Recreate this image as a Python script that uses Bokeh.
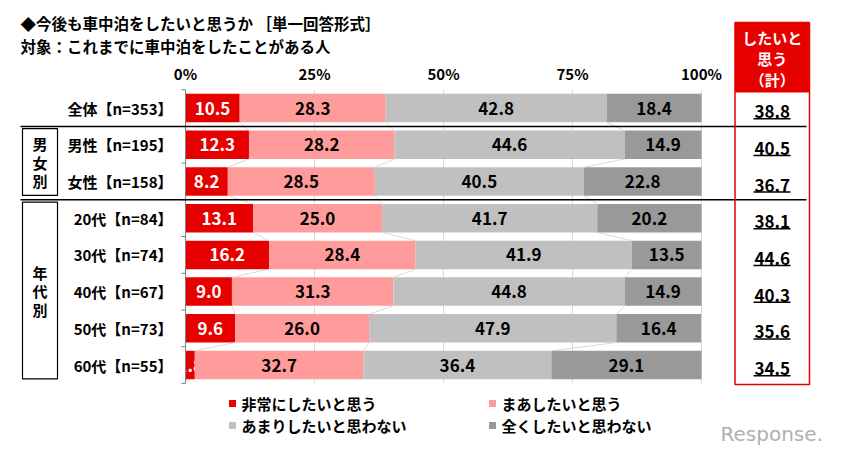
from bokeh.plotting import figure
from bokeh.models import Range1d, ColumnDataSource
from bokeh.core.properties import value
from bokeh.embed import file_html
from bokeh.resources import INLINE

# ---------------- data ----------------
title_lines = ["◆今後も車中泊をしたいと思うか ［単一回答形式］",
               "対象：これまでに車中泊をしたことがある人"]
categories = ["全体【n=353】", "男性【n=195】", "女性【n=158】", "20代【n=84】",
              "30代【n=74】", "40代【n=67】", "50代【n=73】", "60代【n=55】"]
series_names = ["非常にしたいと思う", "まあしたいと思う",
                "あまりしたいと思わない", "全くしたいと思わない"]
very = [10.5, 12.3, 8.2, 13.1, 16.2, 9.0, 9.6, 1.8]
somewhat = [28.3, 28.2, 28.5, 25.0, 28.4, 31.3, 26.0, 32.7]
not_much = [42.8, 44.6, 40.5, 41.7, 41.9, 44.8, 47.9, 36.4]
not_at_all = [18.4, 14.9, 22.8, 20.2, 13.5, 14.9, 16.4, 29.1]
total_want = [38.8, 40.5, 36.7, 38.1, 44.6, 40.3, 35.6, 34.5]
total_header = ["したいと", "思う", "（計）"]
x_ticks = [0, 25, 50, 75, 100]
x_tick_labels = ["0%", "25%", "50%", "75%", "100%"]
groups = [("男女別", 1, 2), ("年代別", 3, 7)]  # label, first row, last row

colors = ["#e60000", "#ff9b9b", "#c0c0c0", "#999999"]
label_colors = ["white", "black", "black", "black"]
FONT = value("Noto Sans CJK JP")

# ---------------- layout helpers (page pixel -> data) ----------------
SX, X0 = 5.16, 185.0
SY, Y0 = 36.71, 89.2
def px(x):
    return (x - X0) / SX
def py(y):
    return (y - Y0) / SY

W, H = 848, 455
p = figure(width=W, height=H,
           x_range=Range1d(px(0), px(W)),
           y_range=Range1d(py(H), py(0)),
           output_backend="svg", toolbar_location=None,
           x_axis_location=None, y_axis_location=None,
           min_border=0, outline_line_color=None)
p.grid.visible = False
p.background_fill_color = "white"

n = len(categories)
rows = [i + 0.5 for i in range(n)]
bar_h = 0.776

# gridlines
p.segment(x0=x_ticks[1:], y0=[0] * 4, x1=x_ticks[1:], y1=[n] * 4,
          line_color="#d9d9d9", line_width=1)

# stacked bars
series = [very, somewhat, not_much, not_at_all]
cum = [0.0] * n
bounds = []
for k, vals in enumerate(series):
    left = cum[:]
    right = [a + b for a, b in zip(cum, vals)]
    src = ColumnDataSource(dict(y=rows, left=left, right=right,
                                mid=[(a + b) / 2 for a, b in zip(left, right)],
                                lab=[f"{v:.1f}" for v in vals]))
    p.hbar(y="y", left="left", right="right", height=bar_h, source=src,
           fill_color=colors[k], line_color=None)
    p.text(x="mid", y="y", text="lab", source=src, text_align="center",
           text_baseline="middle", text_font=FONT, text_font_size="17px",
           text_font_style="bold", text_color=label_colors[k])
    cum = right
    if k < 3:
        bounds.append(right)

# series lines (faint connectors)
sx0, sy0, sx1, sy1 = [], [], [], []
for b in bounds:
    for i in range(n - 1):
        sx0.append(b[i]); sy0.append(rows[i] + bar_h / 2)
        sx1.append(b[i + 1]); sy1.append(rows[i + 1] - bar_h / 2)
p.segment(x0=sx0, y0=sy0, x1=sx1, y1=sy1, line_color="#d0d0d0", line_width=0.8)

# left axis line and ticks
p.segment(x0=[0], y0=[0], x1=[0], y1=[n], line_color="#808080", line_width=1)
p.segment(x0=[px(181)] * (n + 1), y0=list(range(n + 1)), x1=[0] * (n + 1),
          y1=list(range(n + 1)), line_color="#808080", line_width=1)

# x tick labels (top)
p.text(x=x_ticks, y=[py(73)] * 5, text=x_tick_labels, text_align="center",
       text_baseline="middle", text_font=FONT, text_font_size="15px",
       text_font_style="bold", text_color="black")

# category labels
p.text(x=[px(172)] * n, y=rows, text=categories, text_align="right",
       text_baseline="middle", text_font=FONT, text_font_size="15px",
       text_font_style="bold", text_color="black")

# group boxes and vertical labels
for lab, r0, r1 in groups:
    p.quad(left=[px(22)], right=[px(57)], top=[r0 + 0.06], bottom=[r1 + 1 - 0.12],
           fill_color=None, line_color="black", line_width=1.2)
    mid = (r0 + r1 + 1) / 2 - 0.03
    m = len(lab)
    ys = [mid + (j - (m - 1) / 2) * (18.5 / SY) for j in range(m)]
    p.text(x=[px(39.5)] * m, y=ys, text=list(lab), text_align="center",
           text_baseline="middle", text_font=FONT, text_font_size="15px",
           text_font_style="bold", text_color="black")

# group separator lines
seps = [g[1] for g in groups]
p.segment(x0=[px(20)] * len(seps), y0=seps, x1=[px(806)] * len(seps), y1=seps,
          line_color="black", line_width=1.5)

# title
p.text(x=[px(20)] * 2, y=[py(22), py(45)], text=title_lines, text_align="left",
       text_baseline="middle", text_font=FONT, text_font_size="15.5px",
       text_font_style="bold", text_color="black")

# right summary box
bx0, bx1 = px(734.5), px(809)
p.quad(left=[bx0], right=[bx1], top=[py(22)], bottom=[py(92)],
       fill_color="#e60000", line_color=None)
p.quad(left=[bx0], right=[bx1], top=[py(22)], bottom=[py(384)],
       fill_color=None, line_color="#e60000", line_width=1.5)
bxc = (bx0 + bx1) / 2
p.text(x=[bxc] * 3, y=[py(37), py(58), py(79)], text=total_header, text_align="center",
       text_baseline="middle", text_font=FONT, text_font_size="15px",
       text_font_style="bold", text_color="white")
p.text(x=[bxc] * n, y=[r + 0.1 for r in rows], text=[f"{v:.1f}" for v in total_want],
       text_align="center", text_baseline="middle", text_font=FONT,
       text_font_size="17px", text_font_style="bold", text_color="black")
p.segment(x0=[px(753)] * n, y0=[r + 0.29 for r in rows], x1=[px(790)] * n,
          y1=[r + 0.29 for r in rows], line_color="black", line_width=1.5)

# legend
leg_x = [px(232), px(492), px(232), px(492)]
leg_y = [py(403), py(403), py(425), py(425)]
p.scatter(x=leg_x, y=leg_y, marker="square", size=7, fill_color=colors, line_color=None)
p.text(x=[x + px(241) - px(232) for x in leg_x], y=leg_y, text=series_names,
       text_align="left", text_baseline="middle", text_font=FONT,
       text_font_size="15px", text_font_style="bold", text_color="black")

# watermark
p.text(x=[px(720)], y=[py(433)], text=["Response."], text_align="left",
       text_baseline="middle", text_font=value("DejaVu Sans"), text_font_size="20px",
       text_color="#b0b0b0")

open("out.html", "w").write(file_html(p, INLINE))
